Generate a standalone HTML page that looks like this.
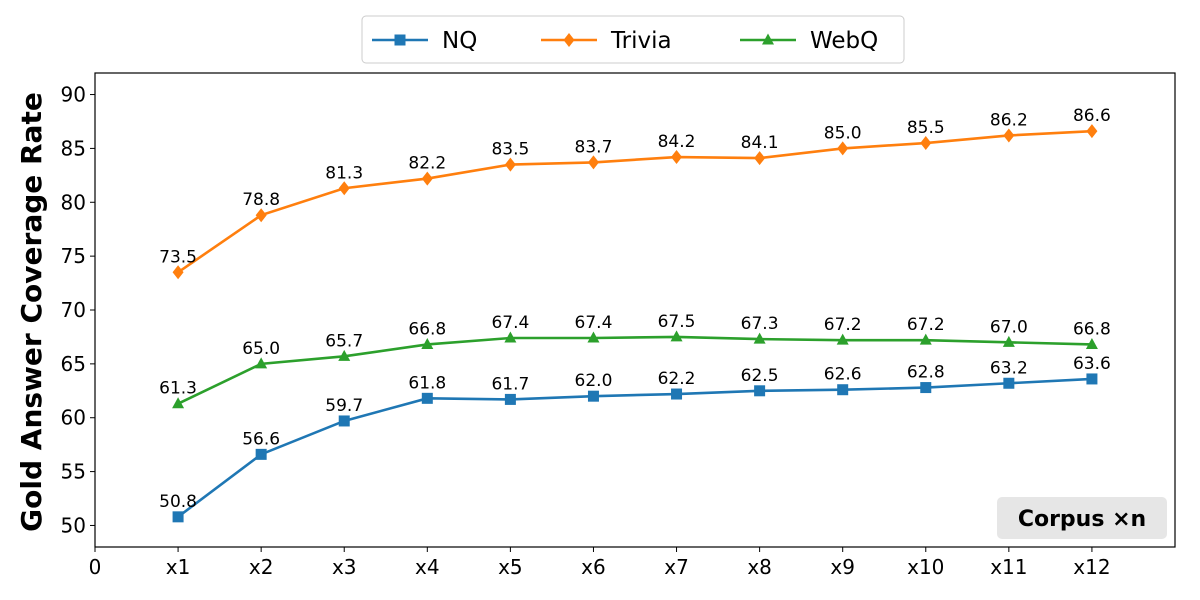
<!DOCTYPE html>
<html><head><meta charset="utf-8"><style>
body{margin:0;background:#fff}
svg{display:block;font-family:"DejaVu Sans","Liberation Sans",sans-serif}
</style></head><body>
<svg id="c" width="1200" height="600" viewBox="0 0 1200 600"></svg>
<script>
const categories=["x1","x2","x3","x4","x5","x6","x7","x8","x9","x10","x11","x12"];
const nqValues=[50.8,56.6,59.7,61.8,61.7,62.0,62.2,62.5,62.6,62.8,63.2,63.6];
const triviaValues=[73.5,78.8,81.3,82.2,83.5,83.7,84.2,84.1,85.0,85.5,86.2,86.6];
const webqValues=[61.3,65.0,65.7,66.8,67.4,67.4,67.5,67.3,67.2,67.2,67.0,66.8];
const yTicks=[50,55,60,65,70,75,80,85,90];
const xTickLabels=["0","x1","x2","x3","x4","x5","x6","x7","x8","x9","x10","x11","x12"];
const L=95,R=1175,T=73,B=547;
const xs=i=>L+(R-L)*i/13;
const ys=v=>B-(B-T)*(v-48)/44;
const svg=document.getElementById('c');
const NS='http://www.w3.org/2000/svg';
function mk(tag,attrs,parent){const e=document.createElementNS(NS,tag);for(const k in attrs)e.setAttribute(k,attrs[k]);(parent||svg).appendChild(e);return e;}
const frame=mk('rect',{x:L,y:T,width:R-L,height:B-T,fill:'none',stroke:'#000','stroke-width':1.2});


yTicks.forEach(v=>{
 const y=ys(v);
 const t=mk('line',{x1:L-5,x2:L,y1:y,y2:y,stroke:'#000'});
 
 
 const tx=mk('text',{x:L-9,y:y+7,'text-anchor':'end','font-size':20,fill:'#000'});
 tx.textContent=v;
 
 
});
xTickLabels.forEach((s,i)=>{
 const x=xs(i);
 const t=mk('line',{x1:x,x2:x,y1:B,y2:B+5,stroke:'#000'});
 
 
 const tx=mk('text',{x:x,y:B+27,'text-anchor':'middle','font-size':20,fill:'#000'});
 tx.textContent=s;
 
 
});
const yt=mk('text',{x:0,y:0,transform:'translate(41,312) rotate(-90)','text-anchor':'middle','font-size':28,'font-weight':'bold',fill:'#000'});
yt.textContent='Gold Answer Coverage Rate';


function marker(type,x,y,c,g){
 let e;
 if(type==='s')e=mk('rect',{x:x-5.5,y:y-5.5,width:11,height:11,fill:c},g);
 else if(type==='d')e=mk('polygon',{points:`${x},${y-7} ${x+5.5},${y} ${x},${y+7} ${x-5.5},${y}`,fill:c},g);
 else e=mk('polygon',{points:`${x},${y-6.5} ${x+6},${y+4.5} ${x-6},${y+4.5}`,fill:c},g);
 return e;
}
function series(name,vals,c,m){
 const g=mk('g',{});
 
 
 const p=mk('polyline',{points:vals.map((v,i)=>xs(i+1)+','+ys(v)).join(' '),fill:'none',stroke:c,'stroke-width':2.6},g);
 
 
 vals.forEach((v,i)=>{
  const mm=marker(m,xs(i+1),ys(v),c,g);
  
  
  const t=mk('text',{x:xs(i+1),y:ys(v)-10,'text-anchor':'middle','font-size':17,fill:'#000'},g);
  t.textContent=v.toFixed(1);
  
  
 });
}
series('nq',nqValues,'#1f77b4','s');
series('trivia',triviaValues,'#ff7f0e','d');
series('webq',webqValues,'#2ca02c','t');
const cb=mk('rect',{x:997,y:497,width:170,height:42,rx:5,fill:'#e6e6e6'});


const ct=mk('text',{x:1082,y:526,'text-anchor':'middle','font-size':22,'font-weight':'bold',fill:'#000'});
ct.textContent='Corpus ×n';


const lg=mk('g',{});


const lb=mk('rect',{x:362,y:16,width:542,height:47,rx:4,fill:'#fff',stroke:'#ccc'},lg);


[['NQ','#1f77b4','s',372],['Trivia','#ff7f0e','d',541],['WebQ','#2ca02c','t',740]].forEach(([n,c,m,x0])=>{
 const e=mk('g',{},lg);
 
 
 mk('line',{x1:x0,x2:x0+56,y1:40,y2:40,stroke:c,'stroke-width':2.6},e);
 marker(m,x0+28,40,c,e);
 const t=mk('text',{x:x0+70,y:48,'font-size':23,fill:'#000'},e);
 t.textContent=n;
});
</script>
</body></html>
